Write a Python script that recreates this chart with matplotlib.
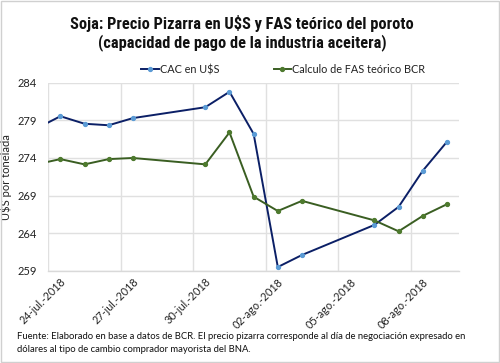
import matplotlib
matplotlib.use("Agg")
import matplotlib.pyplot as plt
import matplotlib.dates as mdates
import pandas as pd
import numpy as np
from matplotlib.patches import Rectangle

dates = ["2018-07-23", "2018-07-24", "2018-07-25", "2018-07-26", "2018-07-27",
         "2018-07-30", "2018-07-31", "2018-08-01", "2018-08-02", "2018-08-03",
         "2018-08-06", "2018-08-07", "2018-08-08", "2018-08-09"]
cac = [277.9, 279.55, 278.55, 278.35, 279.3, 280.75, 282.8, 277.2, 259.5,
       261.1, 265.1, 267.5, 272.3, 276.15]
fas = [273.15, 273.85, 273.15, 273.85, 274.0, 273.15, 277.4, 268.85, 266.95,
       268.3, 265.7, 264.25, 266.3, 267.85]
tick_dates = ["2018-07-24", "2018-07-27", "2018-07-30", "2018-08-02", "2018-08-05", "2018-08-08"]
tick_labels = ["24-jul.-2018", "27-jul.-2018", "30-jul.-2018", "02-ago.-2018", "05-ago.-2018", "08-ago.-2018"]
y_ticks = [259, 264, 269, 274, 279, 284]

title = "Soja: Precio Pizarra en U$S y FAS teórico del poroto\n(capacidad de pago de la industria aceitera)"
footer = ("Fuente: Elaborado en base a datos de BCR. El precio pizarra corresponde al día de negociación expresado en\n"
          "dólares al tipo de cambio comprador mayorista del BNA.")

x = pd.to_datetime(dates)
tx = mdates.date2num(pd.to_datetime(tick_dates))
half = 0.5

fig = plt.figure(figsize=(5.0, 3.63), dpi=100)
ax = fig.add_axes([0.0966, 0.254, 0.918 - 0.0966, 0.772 - 0.254])

body_font = ["Lato", "DejaVu Sans"]

ax.plot(mdates.date2num(x), cac, color="#0b1f66", lw=1.4, marker="o", ms=2.8,
        mfc="#5b9bd5", mec="#5b9bd5", label="CAC en U$S", zorder=3)
ax.plot(mdates.date2num(x), fas, color="#3a5e22", lw=1.4, marker="o", ms=2.8,
        mfc="#4e7a2e", mec="#4e7a2e", label="Calculo de FAS teórico BCR", zorder=3)

ax.set_xlim(tx[0] - half, mdates.date2num(pd.Timestamp("2018-08-09")) + half)
ax.set_ylim(y_ticks[0], y_ticks[-1])
ax.set_yticks(y_ticks)
ax.set_yticklabels([str(v) for v in y_ticks], family=body_font, fontsize=8, color="#222222")

ax.set_xticks(tx)
ax.set_xticklabels(tick_labels, rotation=45, ha="right", rotation_mode="anchor",
                   family=body_font, fontsize=7.8, color="#222222")
ax.set_xticks(tx - half, minor=True)
ax.tick_params(axis="x", which="major", length=0, pad=4)
ax.tick_params(axis="x", which="minor", length=0)
ax.tick_params(axis="y", length=0, pad=8)

ax.grid(False)
ax.grid(True, axis="y", which="major", color="#e0e0e0", lw=1.0)
ax.grid(True, axis="x", which="minor", color="#e0e0e0", lw=1.0)
for s in ["top", "right", "left"]:
    ax.spines[s].set_visible(False)
ax.spines["bottom"].set_color("#d9d9d9")
ax.spines["bottom"].set_linewidth(1.0)

ax.set_ylabel("U$S por tonelada", family=body_font, fontsize=8, color="#222222", labelpad=4)

leg = ax.legend(loc="lower center", bbox_to_anchor=(0.572, 1.0), ncol=2, frameon=False,
                prop={"family": body_font, "size": 7.8}, handlelength=1.6, handletextpad=0.1,
                columnspacing=5.0, borderaxespad=0.3)
for t in leg.get_texts():
    t.set_color("#222222")

fig.text(0.484, 0.91, title, ha="center", va="center", fontsize=11.8, fontweight="bold",
         family=["Roboto Condensed", "Liberation Sans Narrow", "Lato", "DejaVu Sans"],
         linespacing=1.15, color="#111111")
fig.text(0.034, 0.025, footer, ha="left", va="bottom", fontsize=6.8,
         family=body_font, linespacing=1.5, color="#111111")

fig.patches.append(Rectangle((0.002, 0.003), 0.996, 0.994, transform=fig.transFigure,
                             fill=False, ec="#d0d0d0", lw=1.0))

fig.savefig("out.png", dpi=100)
